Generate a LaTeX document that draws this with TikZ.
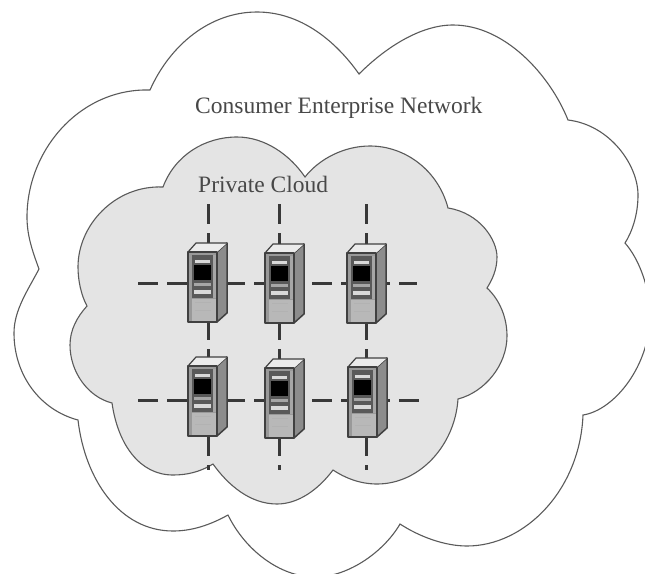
\documentclass[tikz,border=0pt]{standalone}
\usepackage{fontspec}
\setmainfont{Liberation Serif}
\definecolor{cloudline}{HTML}{5A5A5A}
\definecolor{cloudfill}{HTML}{E4E4E4}
\definecolor{ink}{HTML}{484848}
\definecolor{bus}{HTML}{383838}
\tikzset{
  cloudedge/.style={draw=cloudline,line width=1.1pt,line join=miter},
  buspath/.style={draw=bus,line width=3pt,dash pattern=on 20pt off 9pt},
  anchorbox/.style={minimum width=40pt,minimum height=80pt,inner sep=0pt},
  label/.style={text=ink,inner sep=0pt,font=\fontsize{23.5}{26}\selectfont}
}
\newcommand{\serverart}[2]{%
\begin{scope}[shift={(#1,#2)},line join=round]
  \fill[gray!90] (29,0) -- (39,-9) -- (39,61) -- (29,70) -- cycle;
  \draw[black!75,line width=1.5pt] (29,0) -- (39,-9) -- (39,61) -- (29,70);
  \fill[white!92!black] (0,0) -- (8,-9) -- (39,-9) -- (29,0) -- cycle;
  \draw[black!75,line width=1.2pt] (0,0) -- (8,-9) -- (39,-9);
  \fill[gray!80] (0,0) rectangle (29,70);
  \fill[black!65] (4,3) rectangle (25,46);
  \fill[black!35] (25,3) rectangle (29,46);
  \fill[white!72!black] (4,47) rectangle (25,69);
  \fill[black!30] (7,50) rectangle (23,51);
  \fill[black!30] (7,58) rectangle (23,59);
  \fill[black!28] (25,47) rectangle (29,69);
  \fill[black] (6,13) rectangle (23,28);
  \fill[white!85!black] (7,8) rectangle (22,11);
  \fill[black!35] (6,31) rectangle (23,34);
  \fill[white!85!black] (6,38) rectangle (23,42);
  \draw[black!75,line width=1.5pt] (0,0) rectangle (29,70);
\end{scope}}
\begin{document}
\begin{tikzpicture}[x=1pt,y=-1pt]
\useasboundingbox (0,0) rectangle (645,573);
\fill[white] (0,0) rectangle (645,573);
% outer cloud
\draw[cloudedge]
  (150,90) .. controls (170,45) and (210,12) .. (257,12)
  .. controls (300,12) and (335,40) .. (359,74)
  .. controls (385,48) and (420,25) .. (453,25)
  .. controls (505,25) and (550,75) .. (568,120)
  .. controls (610,125) and (638,165) .. (638,195)
  .. controls (638,215) and (632,232) .. (625,243)
  .. controls (640,260) and (650,290) .. (650,315)
  .. controls (650,365) and (615,410) .. (583,415)
  .. controls (580,490) and (525,546) .. (467,546)
  .. controls (445,546) and (420,537) .. (400,524)
  .. controls (385,550) and (350,577) .. (315,577)
  .. controls (280,577) and (245,550) .. (228,515)
  .. controls (210,525) and (192,531) .. (173,531)
  .. controls (120,531) and (85,480) .. (78,420)
  .. controls (40,410) and (14,375) .. (14,333)
  .. controls (14,310) and (28,290) .. (39,269)
  .. controls (32,250) and (27,235) .. (27,217)
  .. controls (27,150) and (80,88) .. (150,90) -- cycle;
% inner cloud
\draw[cloudedge,fill=cloudfill]
  (163,187) .. controls (175,155) and (205,137) .. (237,137)
  .. controls (265,137) and (290,155) .. (305,177)
  .. controls (320,158) and (345,146) .. (370,146)
  .. controls (405,146) and (438,170) .. (448,208)
  .. controls (480,213) and (497,240) .. (497,257)
  .. controls (497,270) and (492,280) .. (487,288)
  .. controls (500,300) and (507,318) .. (507,336)
  .. controls (507,365) and (485,392) .. (458,399)
  .. controls (455,445) and (420,484) .. (377,484)
  .. controls (360,484) and (345,478) .. (333,470)
  .. controls (318,490) and (298,504) .. (277,504)
  .. controls (250,504) and (228,485) .. (213,464)
  .. controls (200,472) and (187,475) .. (173,475)
  .. controls (140,475) and (118,445) .. (112,403)
  .. controls (88,397) and (70,372) .. (70,345)
  .. controls (70,330) and (77,317) .. (87,306)
  .. controls (81,295) and (78,280) .. (78,267)
  .. controls (78,225) and (115,185) .. (163,187) -- cycle;
% labels
\node[label,anchor=base west] (consumer) at (195,113) {Consumer Enterprise Network};
\node[label,anchor=base west] (private) at (198,192) {Private Cloud};
% server anchors
\node[anchorbox] (s1) at (208,283) {};
\node[anchorbox] (s2) at (279,283) {};
\node[anchorbox] (s3) at (366,283) {};
\node[anchorbox] (s4) at (208,400) {};
\node[anchorbox] (s5) at (279,400) {};
\node[anchorbox] (s6) at (366,400) {};
% free ends
\coordinate (r1w) at (138,283);
\coordinate (r1e) at (417,283);
\coordinate (r2w) at (138,400);
\coordinate (r2e) at (419,400);
\coordinate (c1n) at (208,204);
\coordinate (c2n) at (279,204);
\coordinate (c3n) at (366,204);
\coordinate (c1s) at (208,470);
\coordinate (c2s) at (279,470);
\coordinate (c3s) at (366,470);
% connectors
\draw[buspath] (r1w) -- (s1.center) -- (s2.center) -- (s3.center) -- (r1e);
\draw[buspath] (r2w) -- (s4.center) -- (s5.center) -- (s6.center) -- (r2e);
\draw[buspath] (c1n) -- (s1.center) -- (s4.center) -- (c1s);
\draw[buspath] (c2n) -- (s2.center) -- (s5.center) -- (c2s);
\draw[buspath] (c3n) -- (s3.center) -- (s6.center) -- (c3s);
% servers
\serverart{188}{252}
\serverart{265}{253}
\serverart{347}{253}
\serverart{188}{366}
\serverart{265}{368}
\serverart{348}{367}
\end{tikzpicture}
\end{document}
